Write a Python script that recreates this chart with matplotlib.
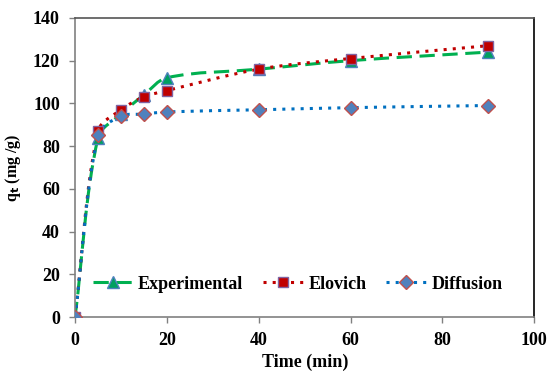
import matplotlib
matplotlib.use("Agg")
import matplotlib.pyplot as plt
from matplotlib.path import Path
from matplotlib.patches import PathPatch
from matplotlib.lines import Line2D
import numpy as np

plt.rcParams['font.family'] = ['Liberation Serif', 'DejaVu Serif']
plt.rcParams['font.weight'] = 'bold'

time = [0, 5, 10, 15, 20, 40, 60, 90]
experimental = [0, 84, 95, 104, 112, 116, 120, 124]
elovich = [0, 87, 97, 103, 106, 116, 121, 127]
diffusion = [0, 85, 94, 95, 96, 97, 98, 99]

XMAX, YMAX = 100, 140
AX_W, AX_H = 459, 300  # plot area in pixels, used to smooth in screen space


def smooth_path(x, y, k=1/3):
    # excel-like smoothed line: cubic bezier, tangents scaled by segment lengths (pixel space)
    sx, sy = AX_W / XMAX, AX_H / YMAX
    pts = np.column_stack([np.asarray(x) * sx, np.asarray(y) * sy]).astype(float)
    verts = [pts[0]]
    codes = [Path.MOVETO]
    n = len(pts)
    for i in range(n - 1):
        p0 = pts[i - 1] if i > 0 else pts[i]
        p1 = pts[i]
        p2 = pts[i + 1]
        p3 = pts[i + 2] if i + 2 < n else pts[i + 1]
        d01 = np.hypot(*(p1 - p0))
        d12 = np.hypot(*(p2 - p1))
        d23 = np.hypot(*(p3 - p2))
        c1 = p1 + (p2 - p0) * k * d12 / max(d01 + d12, 1e-9)
        c2 = p2 - (p3 - p1) * k * d12 / max(d12 + d23, 1e-9)
        verts += [c1, c2, p2]
        codes += [Path.CURVE4] * 3
    verts = np.array(verts) / [sx, sy]
    return Path(verts, codes)


fig = plt.figure(figsize=(5.48, 3.73), dpi=100)
ax = fig.add_axes([0.137, 0.150, 0.838, 0.802])

series = [
    ("Experimental", experimental, "#00B050", (0, (5, 2.5)), "^", "#00A060", "#4F81BD", 8),
    ("Elovich", elovich, "#C00000", (0, (1, 2)), "s", "#C00000", "#8064A2", 7),
    ("Diffusion", diffusion, "#0070C0", (0, (1, 2)), "D", "#4F81BD", "#C0504D", 7),
]

handles = []
for name, vals, lc, ls, mk, mfc, mec, ms in series:
    patch = PathPatch(smooth_path(time, vals), facecolor="none", edgecolor=lc,
                      linewidth=2.2, linestyle=ls, zorder=2)
    ax.add_patch(patch)
    ax.plot(time, vals, linestyle="none", marker=mk, markersize=ms,
            markerfacecolor=mfc, markeredgecolor=mec, markeredgewidth=1, zorder=3)
    handles.append(Line2D([], [], color=lc, linewidth=2.2, linestyle=ls, marker=mk,
                          markersize=ms, markerfacecolor=mfc, markeredgecolor=mec,
                          markeredgewidth=1, label=name))

ax.set_xlim(0, XMAX)
ax.set_ylim(0, YMAX)
ax.set_xticks(range(0, 101, 20))
ax.set_yticks(range(0, 141, 20))
ax.tick_params(direction="out", length=4, width=1, color="#808080",
               labelsize=13, pad=7)
for lab in ax.get_xticklabels() + ax.get_yticklabels():
    lab.set_fontweight("bold")

ax.spines["left"].set_color("#808080")
ax.spines["bottom"].set_color("#808080")
ax.spines["top"].set_color("#555555")
ax.spines["right"].set_color("#000000")
for s in ax.spines.values():
    s.set_linewidth(1.2)

ax.set_xlabel("Time (min)", fontsize=13, fontweight="bold", labelpad=3)
ax.set_ylabel("q$_\\mathbf{t}$ (mg /g)", fontsize=11.5, fontweight="bold", labelpad=7)

ax.legend(handles=handles, ncol=3, frameon=False, loc="center",
          bbox_to_anchor=(0.485, 0.11), prop={"size": 13, "weight": "bold"},
          handlelength=2.2, columnspacing=1.1, handletextpad=0.3)

fig.savefig("out.png", dpi=100)
